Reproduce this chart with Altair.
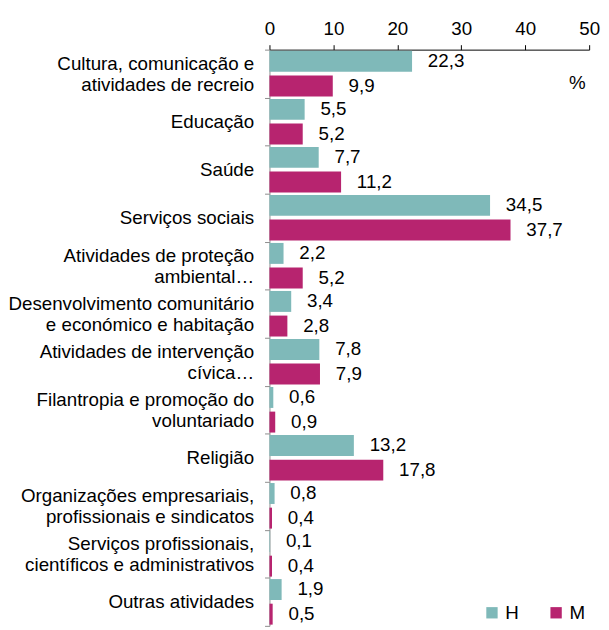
import altair as alt
import pandas as pd

categories = [
    "Cultura, comunicação e|atividades de recreio",
    "Educação",
    "Saúde",
    "Serviços sociais",
    "Atividades de proteção|ambiental…",
    "Desenvolvimento comunitário|e económico e habitação",
    "Atividades de intervenção|cívica…",
    "Filantropia e promoção do|voluntariado",
    "Religião",
    "Organizações empresariais,|profissionais e sindicatos",
    "Serviços profissionais,|científicos e administrativos",
    "Outras atividades",
]
h_values = [22.3, 5.5, 7.7, 34.5, 2.2, 3.4, 7.8, 0.6, 13.2, 0.8, 0.1, 1.9]
m_values = [9.9, 5.2, 11.2, 37.7, 5.2, 2.8, 7.9, 0.9, 17.8, 0.4, 0.4, 0.5]
series = ["H", "M"]
colors = ["#7FB9B9", "#B7246F"]
x_ticks = [0, 10, 20, 30, 40, 50]

rows = []
for c, h, m in zip(categories, h_values, m_values):
    rows.append({"cat": c, "sexo": "H", "v": h})
    rows.append({"cat": c, "sexo": "M", "v": m})
df = pd.DataFrame(rows)

FONT = "Liberation Sans"
FS = 19

y_enc = alt.Y(
    "cat:N", sort=categories, title=None,
    scale=alt.Scale(paddingInner=0, paddingOuter=0),
    axis=alt.Axis(
        labelExpr="split(datum.label, '|')", labelFontSize=FS, labelFont=FONT,
        labelColor="#000000", labelLineHeight=21, labelPadding=11, labelAlign="right",
        labelOffset={"condition": {"test": "indexof(datum.label, '|') >= 0", "value": -10},
                     "value": 0},
        domainColor="#8C8C8C", tickColor="#8C8C8C", tickSize=5, tickBand="extent",
        labelLimit=400,
    ),
)
yoff = alt.YOffset("sexo:N", sort=series,
                   scale=alt.Scale(paddingInner=0.15, paddingOuter=0.05))
x_enc = alt.X(
    "v:Q", title=None,
    scale=alt.Scale(domain=[0, 50], nice=False),
    axis=alt.Axis(
        orient="top", values=x_ticks, labelFontSize=FS, labelFont=FONT,
        labelColor="#000000", domainColor="#000000", tickColor="#000000",
        tickSize=5, labelPadding=6, grid=False, labelFlush=False,
    ),
)

bars = alt.Chart(df).mark_bar().encode(
    y=y_enc, yOffset=yoff, x=x_enc,
    color=alt.Color(
        "sexo:N", sort=series,
        scale=alt.Scale(domain=series, range=colors),
        legend=alt.Legend(
            title=None, orient="none", direction="horizontal",
            legendX=216, legendY=561, symbolType="square", symbolSize=132,
            symbolStrokeWidth=0, labelFontSize=19, labelFont=FONT,
            labelColor="#000000", labelOffset=4, columnPadding=28,
        ),
    ),
)

labels = alt.Chart(df).transform_calculate(
    lab="replace(format(datum.v, '.1f'), '.', ',')"
).mark_text(align="left", baseline="middle", dx=16, fontSize=FS, font=FONT,
            color="#000000").encode(
    y=alt.Y("cat:N", sort=categories), yOffset=yoff, x="v:Q", text="lab:N",
)

pct = alt.Chart(pd.DataFrame({"t": ["%"]})).mark_text(
    fontSize=FS, font=FONT, color="#000000", align="center", baseline="middle"
).encode(text="t:N", x=alt.value(312), y=alt.value(34))

chart = alt.layer(bars, labels, pct).properties(
    width=324, height=584,
    autosize=alt.AutoSizeParams(type="none"),
    padding={"left": 265, "top": 38, "right": 12, "bottom": 0},
).configure_view(stroke=None)

chart.save("out.html", embed_options={"renderer": "svg", "actions": False})
